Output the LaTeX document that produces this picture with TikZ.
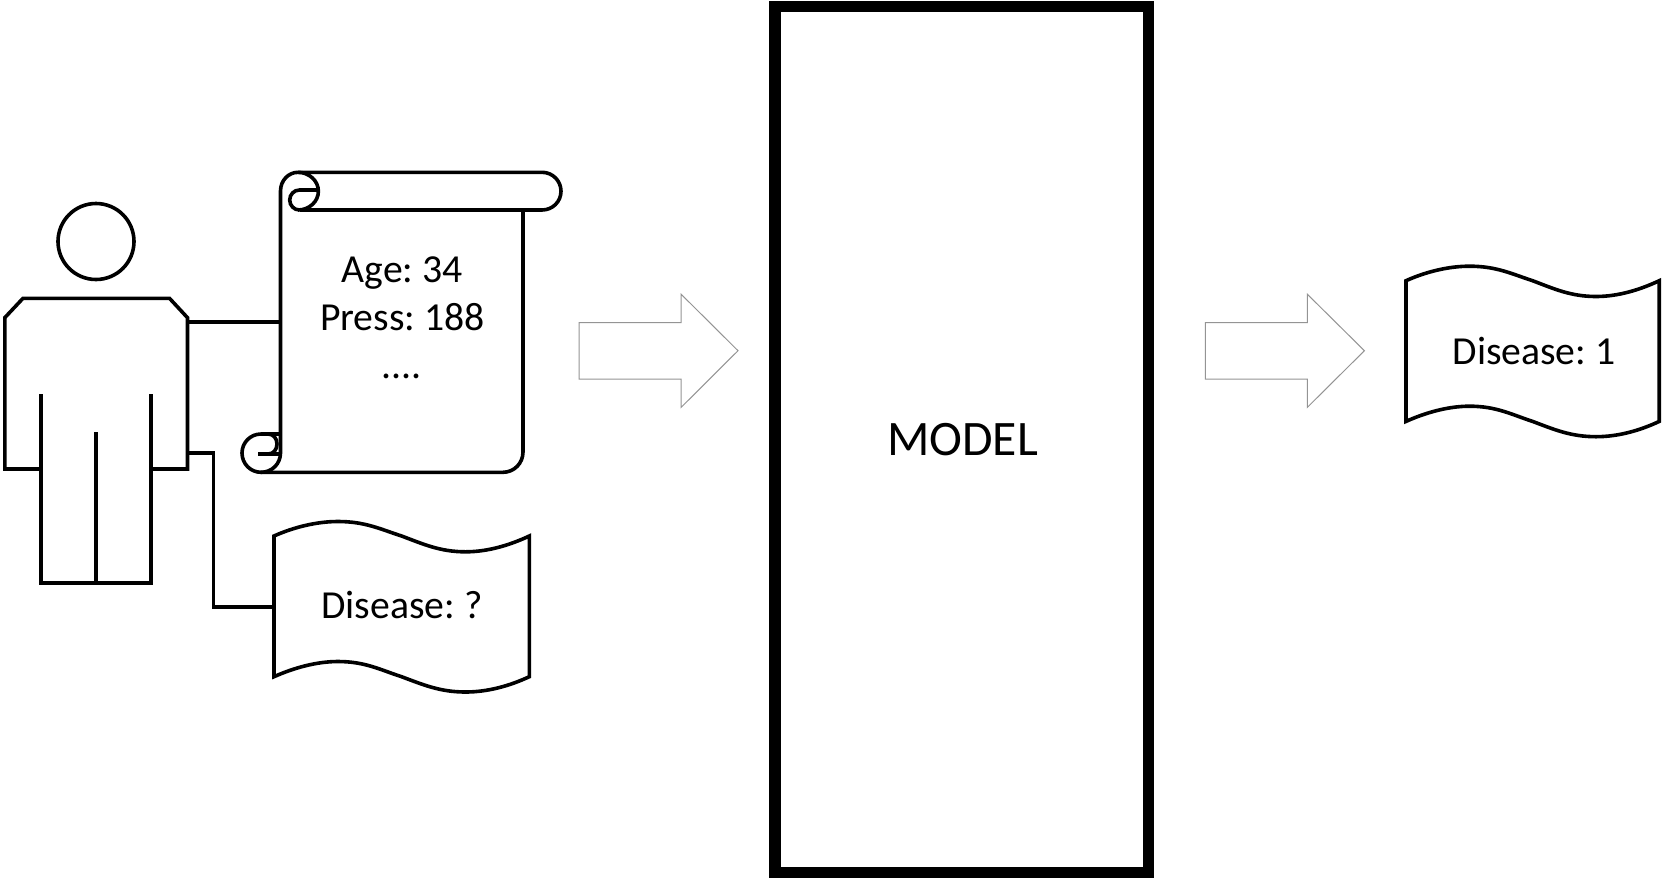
\documentclass[tikz,border=0pt]{standalone}
\usepackage{fontspec}
\setmainfont{Carlito}
\tikzset{
  ink/.style={line width=3.6pt,draw=black,line join=miter},
  thinarrow/.style={line width=1pt,draw=black!42,fill=white,line join=miter},
  modelbox/.style={line width=11.3pt,draw=black,fill=white,line join=miter},
  label/.style={inner sep=0pt,anchor=base,font=\fontsize{39.7}{40}\selectfont\frenchspacing},
  wavedoc/.pic={
    \draw[ink,fill=white] (0,0)
      .. controls (19,-8.5) and (42,-14.5) .. (64,-14.5)
      .. controls (91,-14.5) and (106,-7) .. (127.6,0)
      .. controls (149,8) and (166,15.8) .. (191.5,15.8)
      .. controls (214,15.8) and (236,9) .. (255.3,0)
      -- (255.3,140.7)
      .. controls (236,149.7) and (214,156) .. (191.5,156)
      .. controls (166,156) and (149,148.7) .. (127.6,140.7)
      .. controls (106,133.7) and (91,125.5) .. (64,125.5)
      .. controls (42,125.5) and (19,132.2) .. (0,140.7)
      -- cycle;
  }
}
\begin{document}
\begin{tikzpicture}[x=1pt,y=-1pt]
\useasboundingbox (0,0) rectangle (1665,879);

% connector end points
\coordinate (bodyA) at (187.5,322);
\coordinate (scrollA) at (280.5,322);
\coordinate (bodyB) at (187.5,452.7);
\coordinate (elbow) at (213.5,452.7);
\coordinate (elbowB) at (213.5,606.7);
\coordinate (docA) at (274,606.7);

\draw[ink] (bodyA) -- (scrollA);
\draw[ink] (bodyB) -- (elbow) -- (elbowB) -- (docA);

% person
\draw[ink] (96,241.5) ellipse [x radius=38,y radius=38];
\draw[ink] (41,469) -- (4.8,469) -- (4.8,317.7) -- (23,298.3) -- (169.5,298.3) -- (187.5,317.7) -- (187.5,469) -- (151,469);
\draw[ink] (41,394) -- (41,583) -- (151,583) -- (151,394);
\draw[ink] (96,432) -- (96,583);

% scroll
\draw[ink] (280.5,453) -- (280.5,191)
  .. controls (280.5,180.5) and (288.5,172.3) .. (298,172.3)
  -- (542,172.3)
  .. controls (552.5,172.3) and (561,180.7) .. (561,191.2)
  .. controls (561,201.7) and (552.5,210) .. (542,210)
  -- (300,210);
\draw[ink] (523,210) -- (523,452)
  .. controls (523,463.3) and (514,472.3) .. (503,472.3)
  -- (261,472.3);
\draw[ink] (298,172.3)
  .. controls (309,172.3) and (318.4,180.7) .. (318.4,191.2)
  .. controls (318.4,201.7) and (309,210) .. (298,210);
\draw[ink] (318.4,190) -- (299.5,190)
  .. controls (294,190) and (289.7,194.5) .. (289.7,200)
  .. controls (289.7,205.5) and (294,210) .. (299.5,210);
\draw[ink] (280.5,453)
  .. controls (280.5,463.7) and (272,472.3) .. (261,472.3)
  .. controls (250.5,472.3) and (242,463.7) .. (242,453)
  .. controls (242,442.5) and (250.5,434) .. (261,434)
  -- (280.5,434);
\draw[ink] (258,454) -- (280.5,454);
\draw[ink] (268,434)
  .. controls (273.5,434) and (277,438.5) .. (277,444)
  .. controls (277,449.5) and (273.5,454) .. (268,454);

\node[label] (age) at (402.3,282) {Age: 34};
\node[label] (press) at (402.3,330.3) {Press: 188};
\node[label] (dots) at (401.5,378) {....};

% documents
\pic at (274,536) {wavedoc};
\node[label] (unknown) at (402,618.3) {Disease: ?};
\pic[xscale=0.992] at (1406,280.7) {wavedoc};
\node[label] (known) at (1534,364) {Disease: 1};

% arrows
\draw[thinarrow] (579.2,322.7) -- (681.2,322.7) -- (681.2,294.3) -- (738,350.7) -- (681.2,407.3) -- (681.2,379) -- (579.2,379) -- cycle;
\draw[thinarrow] (1205.4,322.7) -- (1307.4,322.7) -- (1307.4,294.3) -- (1364.4,350.7) -- (1307.4,407.3) -- (1307.4,379) -- (1205.4,379) -- cycle;

% model
\node[modelbox,minimum width=373.5pt,minimum height=865.8pt,inner sep=0pt] (modelframe) at (961.8,439.6) {};
\node[label,font=\fontsize{49.6}{50}\selectfont] (model) at (962.5,455) {MODEL};
\end{tikzpicture}
\end{document}
